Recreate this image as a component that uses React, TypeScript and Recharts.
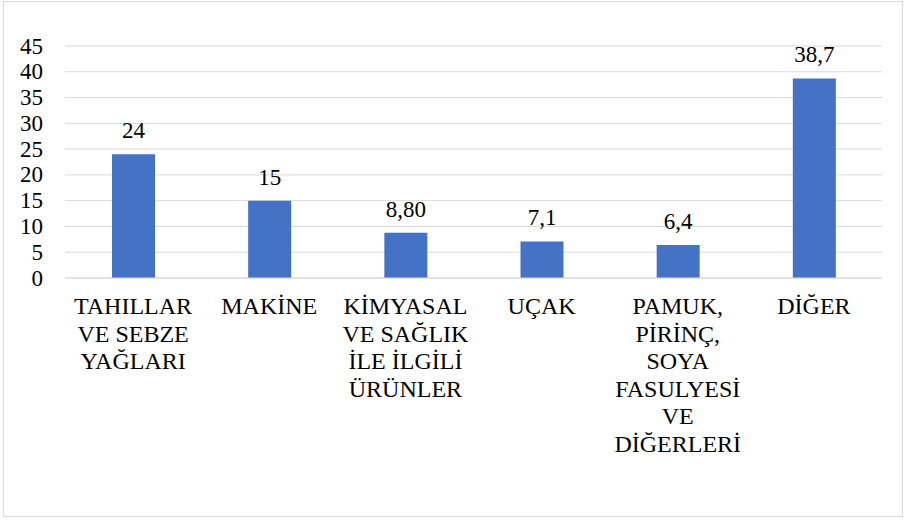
import { BarChart, Bar, XAxis, YAxis, CartesianGrid, LabelList } from 'recharts';

const categories = [
  'TAHILLAR\nVE SEBZE\nYAĞLARI',
  'MAKİNE',
  'KİMYASAL\nVE SAĞLIK\nİLE İLGİLİ\nÜRÜNLER',
  'UÇAK',
  'PAMUK,\nPİRİNÇ,\nSOYA\nFASULYESİ\nVE\nDİĞERLERİ',
  'DİĞER',
];
const values = [24, 15, 8.8, 7.1, 6.4, 38.7];
const valueLabels = ['24', '15', '8,80', '7,1', '6,4', '38,7'];
const yTicks = [0, 5, 10, 15, 20, 25, 30, 35, 40, 45];

const data = categories.map((name, i) => ({ name, value: values[i], label: valueLabels[i] }));

const FONT = "'Liberation Serif', serif";

function CategoryTick(props: any) {
  const { x, y, payload } = props;
  const lines = String(payload.value).split('\n');
  return (
    <text x={x} y={y} textAnchor="middle" fill="#000" fontSize={24} fontFamily={FONT}>
      {lines.map((line, i) => (
        <tspan key={i} x={x} y={y + 28 + i * 27.5}>{line}</tspan>
      ))}
    </text>
  );
}

function ValueTick(props: any) {
  const { x, y, payload } = props;
  return (
    <text x={x} y={y} dy="0.33em" textAnchor="end" fill="#000" fontSize={23} fontFamily={FONT}>
      {payload.value}
    </text>
  );
}

function BarLabel(props: any) {
  const { x, y, width, value } = props;
  return (
    <text x={x + width / 2} y={y - 16} textAnchor="middle" fill="#000" fontSize={23} fontFamily={FONT}>
      {value}
    </text>
  );
}

export default function App() {
  return (
    <div style={{ position: 'fixed', left: 0, top: 0, width: 905, height: 520, background: '#fff', fontFamily: FONT }}>
      <div style={{ position: 'absolute', left: 3, top: 1, width: 898, height: 514, border: '1px solid #d9d9d9' }} />
      <BarChart width={905} height={520} data={data} margin={{ top: 46, right: 23, left: 0, bottom: 42 }}>
        <CartesianGrid vertical={false} stroke="#d9d9d9" strokeWidth={1} />
        <XAxis
          dataKey="name"
          interval={0}
          height={200}
          tickLine={false}
          axisLine={{ stroke: '#d9d9d9' }}
          tick={<CategoryTick />}
        />
        <YAxis
          width={65}
          domain={[0, 45]}
          ticks={yTicks}
          interval={0}
          tickLine={false}
          axisLine={false}
          tickMargin={16}
          tick={<ValueTick />}
        />
        <Bar dataKey="value" fill="#4472c4" barSize={43} isAnimationActive={false}>
          <LabelList dataKey="label" content={<BarLabel />} />
        </Bar>
      </BarChart>
    </div>
  );
}
